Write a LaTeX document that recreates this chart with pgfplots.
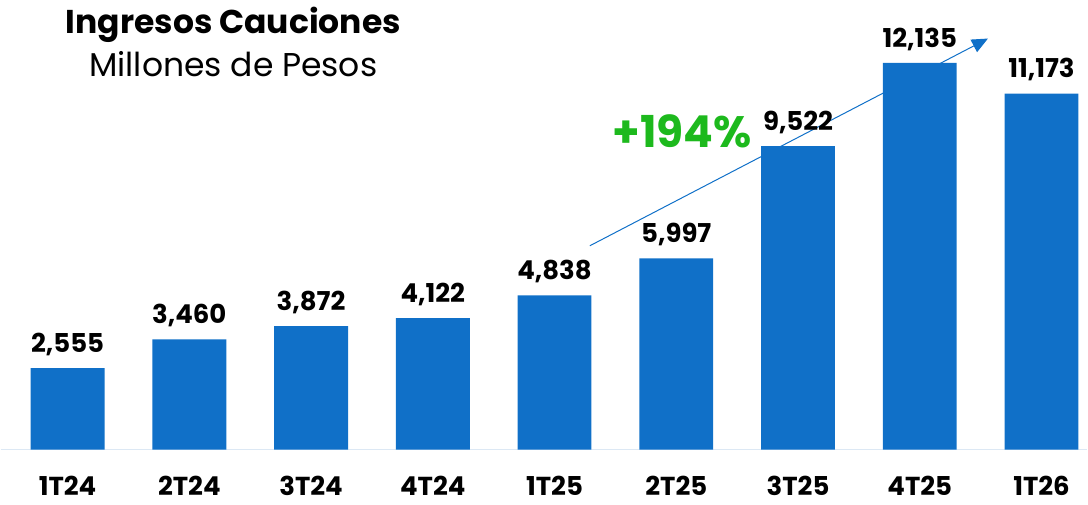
\documentclass[border=0pt]{standalone}
\usepackage{pgfplots}
\pgfplotsset{compat=1.18}
\usepackage{fontspec}
\setmainfont{Poppins}
\usetikzlibrary{arrows.meta}
\definecolor{barblue}{HTML}{1070C8}
\definecolor{growgreen}{HTML}{1DB91D}
\definecolor{axisline}{HTML}{DCE8F4}
\begin{document}
\begin{tikzpicture}
\begin{axis}[
  name=ax,
  scale only axis,
  width=1088pt, height=450pt,
  xmin=-0.55, xmax=8.377,
  ymin=0, ymax=14110,
  axis y line=none,
  axis x line*=bottom,
  x axis line style={draw=axisline, line width=1.2pt, -},
  xtick=data,
  xticklabels={1T24,2T24,3T24,4T24,1T25,2T25,3T25,4T25,1T26},
  xticklabel style={font=\fontsize{26}{28}\selectfont\bfseries, yshift=-23pt},
  major tick length=0pt,
  ybar, bar width=74pt,
  /pgf/number format/.cd, 1000 sep={,}, assume math mode=true,
  /pgfplots/.cd,
  nodes near coords,
  nodes near coords style={font=\fontsize{26}{28}\selectfont\bfseries, black, anchor=south, yshift=9pt},
  clip=false,
]
\addplot[fill=barblue, draw=none] coordinates {
 (0,2555) (1,3460) (2,3872) (3,4122) (4,4838) (5,5997) (6,9522) (7,12135) (8,11173)};
\draw[barblue, line width=1pt, -{Triangle[length=16pt,width=14pt]}] (axis cs:4.29,6395) -- (axis cs:7.56,12900);
\node[growgreen, font=\fontsize{44}{46}\selectfont\bfseries] at (axis cs:5.05,10000) {+194\%};
\end{axis}
\node[font=\fontsize{33}{35}\selectfont\bfseries, anchor=center] at ([xshift=233pt,yshift=-25pt]ax.north west) {Ingresos Cauciones};
\node[font=\fontsize{33}{35}\selectfont, anchor=center] at ([xshift=233pt,yshift=-64pt]ax.north west) {Millones de Pesos};
\useasboundingbox (ax.south west) ++(0,-55pt) rectangle (ax.north east);
\end{tikzpicture}
\end{document}
